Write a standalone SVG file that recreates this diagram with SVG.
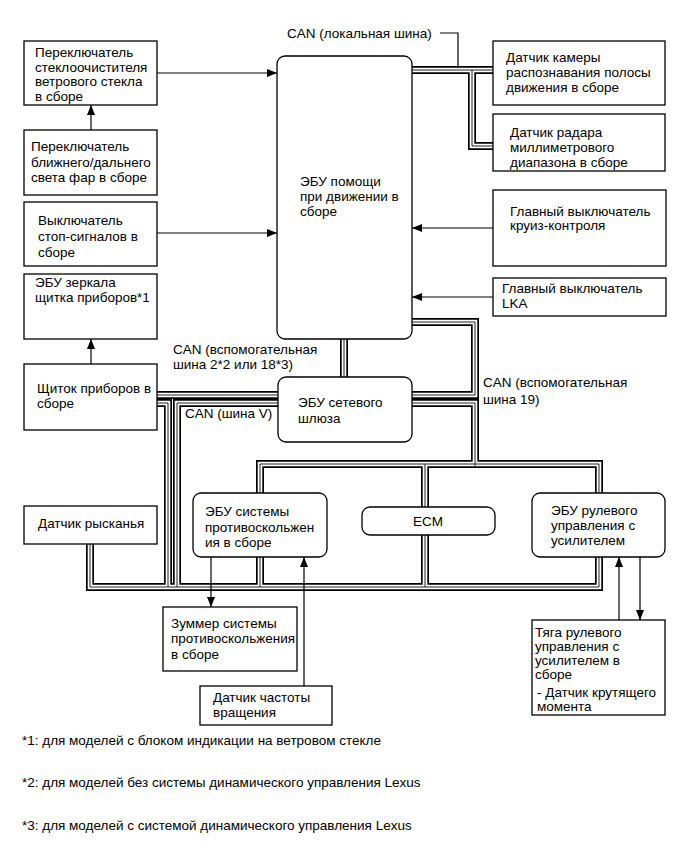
<svg xmlns="http://www.w3.org/2000/svg" xmlns:xlink="http://www.w3.org/1999/xlink" width="689" height="853" viewBox="0 0 689 853">
<style>
text{font-family:"Liberation Sans",Arial,sans-serif;font-size:13.5px;fill:#000}
.box{fill:#fff;stroke:#000;stroke-width:1.3}
.bo{fill:none;stroke:#000;stroke-width:8}
.bg{fill:none;stroke:#fff;stroke-width:4.6}
.bc{fill:none;stroke:#222;stroke-width:1}
.ln{fill:none;stroke:#000;stroke-width:1.2}
.ar{fill:none;stroke:#000;stroke-width:1.2;marker-end:url(#ah)}
</style>
<defs>
<marker id="ah" markerUnits="userSpaceOnUse" markerWidth="10" markerHeight="8" refX="10" refY="4" orient="auto">
<path d="M0,0 L10,4 L0,8 z" fill="#000"/>
</marker>
<path id="b1" d="M410,70 H495"/>
<path id="b2" d="M472,70 V146 H495"/>
<path id="b3" d="M344,337 V379"/>
<path id="b4" d="M410,322 H475 V395 H410"/>
<path id="b5" d="M410,403 H475 V466"/>
<path id="b6" d="M155,395 H280"/>
<path id="b7" d="M155,403 H168 V587"/>
<path id="b8" d="M280,403 H177 V587"/>
<path id="b9" d="M90,542 V587 H599 V464 H260 V587"/>
<path id="b10" d="M425,464 V587"/>
</defs>
<g id="connectors">
<g class="bo"><use xlink:href="#b1"/><use xlink:href="#b2"/><use xlink:href="#b3"/><use xlink:href="#b4"/><use xlink:href="#b5"/><use xlink:href="#b6"/><use xlink:href="#b7"/><use xlink:href="#b8"/><use xlink:href="#b9"/><use xlink:href="#b10"/></g>
<g class="bg"><use xlink:href="#b1"/><use xlink:href="#b2"/><use xlink:href="#b3"/><use xlink:href="#b4"/><use xlink:href="#b5"/><use xlink:href="#b6"/><use xlink:href="#b7"/><use xlink:href="#b8"/><use xlink:href="#b9"/><use xlink:href="#b10"/></g>
<g class="bc"><use xlink:href="#b1"/><use xlink:href="#b2"/><use xlink:href="#b3"/><use xlink:href="#b4"/><use xlink:href="#b5"/><use xlink:href="#b6"/><use xlink:href="#b7"/><use xlink:href="#b8"/><use xlink:href="#b9"/><use xlink:href="#b10"/></g>
<polyline class="ln" points="440,33 458,33 458,68"/>
<path class="ar" d="M157,73 H277"/>
<path class="ar" d="M157,233 H277"/>
<path class="ar" d="M91,130 V105"/>
<path class="ar" d="M91,364 V339"/>
<path class="ar" d="M493,228 H412"/>
<path class="ar" d="M493,297 H412"/>
<path class="ar" d="M211,557 V607"/>
<path class="ar" d="M304,686 V557"/>
<path class="ar" d="M619,620 V557"/>
<path class="ar" d="M640,557 V620"/>
</g>
<g id="n_wiper"><rect class="box" x="24" y="41" width="133" height="64"/><text x="35" y="57">Переключатель</text><text x="35" y="71.5">стеклоочистителя</text><text x="35" y="86">ветрового стекла</text><text x="35" y="100.5">в сборе</text></g>
<g id="n_beam"><rect class="box" x="24" y="130" width="133" height="65"/><text x="31" y="150.5">Переключатель</text><text x="31" y="166.5">ближнего/дальнего</text><text x="31" y="181.5">света фар в сборе</text></g>
<g id="n_stop"><rect class="box" x="24" y="202" width="133" height="64"/><text x="38" y="224.5">Выключатель</text><text x="38" y="240.5">стоп-сигналов в</text><text x="38" y="256.5">сборе</text></g>
<g id="n_mirror"><rect class="box" x="24" y="274" width="133" height="65"/><text x="35" y="286.5">ЭБУ зеркала</text><text x="35" y="301.5">щитка приборов*1</text></g>
<g id="n_cluster"><rect class="box" x="24" y="364" width="133" height="66"/><text x="37" y="392.5">Щиток приборов в</text><text x="37" y="407.5">сборе</text></g>
<g id="n_yaw"><rect class="box" x="24" y="506" width="133" height="38"/><text x="38" y="527.5">Датчик рысканья</text></g>
<g id="n_ecu"><rect class="box" x="277" y="56" width="135" height="283" rx="8"/><text x="300" y="185.5">ЭБУ помощи</text><text x="300" y="200.5">при движении в</text><text x="300" y="215.5">сборе</text></g>
<g id="n_camera"><rect class="box" x="493" y="41" width="172" height="64"/><text x="506" y="61.5">Датчик камеры</text><text x="506" y="76.5">распознавания полосы</text><text x="506" y="91.5">движения в сборе</text></g>
<g id="n_radar"><rect class="box" x="493" y="114" width="172" height="57"/><text x="510" y="136.5">Датчик радара</text><text x="510" y="151.5">миллиметрового</text><text x="510" y="166.5">диапазона в сборе</text></g>
<g id="n_cruise"><rect class="box" x="493" y="190" width="173" height="76"/><text x="510" y="215.5">Главный выключатель</text><text x="510" y="230">круиз-контроля</text></g>
<g id="n_lka"><rect class="box" x="493" y="278" width="173" height="38"/><text x="502" y="292.5">Главный выключатель</text><text x="502" y="307.5">LKA</text></g>
<g id="n_gateway"><rect class="box" x="278" y="377" width="134" height="65" rx="8"/><text x="298" y="406.5">ЭБУ сетевого</text><text x="298" y="422.5">шлюза</text></g>
<g id="n_abs"><rect class="box" x="193" y="493" width="134" height="64" rx="8"/><text x="205" y="515.5">ЭБУ системы</text><text x="205" y="531.5">противоскольжен</text><text x="205" y="546.5">ия в сборе</text></g>
<g id="n_ecm"><rect class="box" x="362" y="507" width="133" height="28" rx="8"/><text x="428" y="526" text-anchor="middle">ECM</text></g>
<g id="n_eps"><rect class="box" x="532" y="493" width="133" height="64" rx="8"/><text x="551" y="514.5">ЭБУ рулевого</text><text x="551" y="529.5">управления с</text><text x="551" y="544.5">усилителем</text></g>
<g id="n_buzzer"><rect class="box" x="163" y="607" width="134" height="64"/><text x="171" y="627.5">Зуммер системы</text><text x="171" y="643">противоскольжения</text><text x="171" y="658.5">в сборе</text></g>
<g id="n_speed"><rect class="box" x="200" y="686" width="132" height="39"/><text x="213" y="701.5">Датчик частоты</text><text x="213" y="716.5">вращения</text></g>
<g id="n_rack"><rect class="box" x="532" y="620" width="133" height="95"/><text x="535" y="636.5">Тяга рулевого</text><text x="535" y="651">управления с</text><text x="535" y="665">усилителем в</text><text x="535" y="678.5">сборе</text><text x="537" y="696.5">- Датчик крутящего</text><text x="537" y="711">момента</text></g>
<g id="labels">
<text x="287" y="37.5">CAN (локальная шина)</text>
<text x="173" y="353.5">CAN (вспомогательная</text>
<text x="173" y="368.5">шина 2*2 или 18*3)</text>
<text x="185" y="417.5">CAN (шина V)</text>
<text x="483" y="386.5">CAN (вспомогательная</text>
<text x="483" y="403.5">шина 19)</text>
<text x="22" y="745">*1: для моделей с блоком индикации на ветровом стекле</text>
<text x="22" y="787">*2: для моделей без системы динамического управления Lexus</text>
<text x="22" y="830">*3: для моделей с системой динамического управления Lexus</text>
</g>
</svg>
